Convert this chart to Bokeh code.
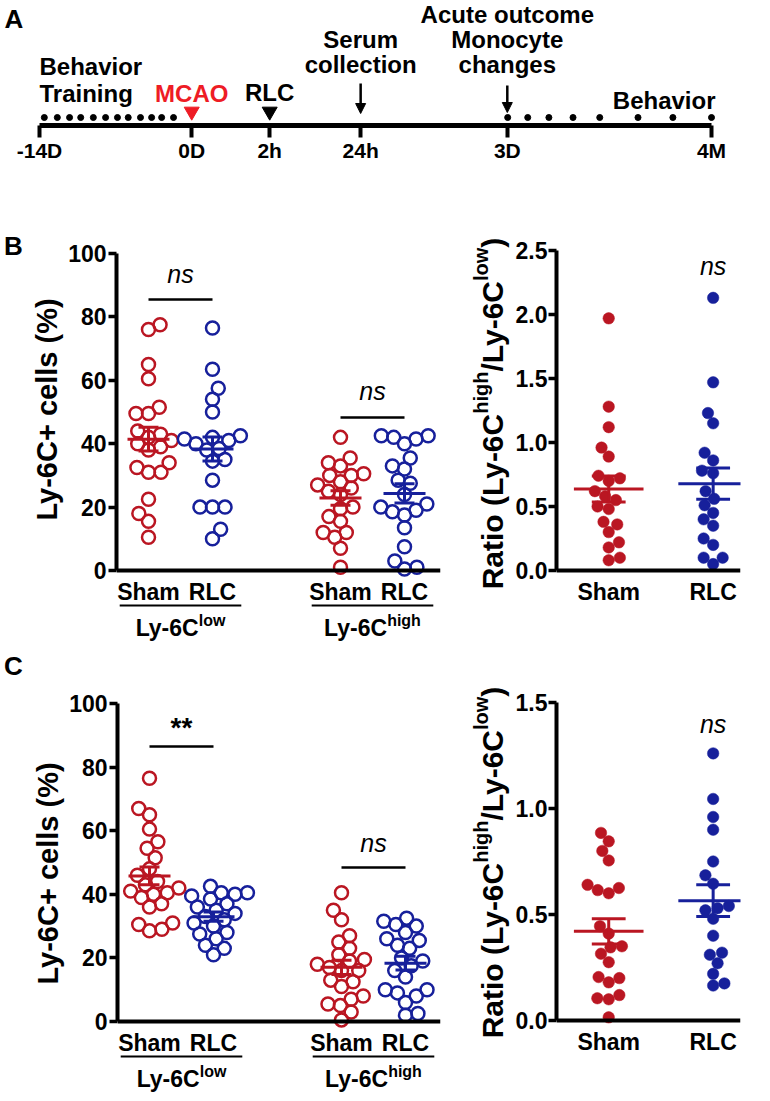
import glob
import numpy as np
from bokeh.plotting import figure
from bokeh.models import Range1d, Label, Arrow, NormalHead, FixedTicker, PrintfTickFormatter
from bokeh.layouts import column, row
from bokeh.embed import file_html
from bokeh.resources import INLINE
from bokeh.core.properties import value

FONT = "Liberation Sans"
RED = "#BA1622"
BLUE = "#17209B"
BRIGHT_RED = "#EE1C25"

# ---------------- data ----------------
timeline_labels = ["-14D", "0D", "2h", "24h", "3D", "4M"]
timeline_pos = [0.0, 4.1, 6.2, 8.65, 12.6, 18.1]
training_days = [0.13, 0.48, 0.81, 1.11, 1.45, 1.78, 2.10, 2.39, 2.72, 3.02, 3.29, 3.61]
behavior_days = [12.61, 13.15, 13.72, 14.37, 15.09, 16.12, 17.06, 18.10]

cat_labels = ["Sham", "RLC"]

b_low_sham = [77.5, 76, 65, 60.5, 51.5, 49.5, 49.5, 44, 43, 42, 41, 40, 39, 38, 34, 32.5, 31, 31, 22.5, 18, 15.5, 10.5]
b_low_rlc = [76.5, 63.5, 57.5, 54, 50, 42.5, 42, 41.5, 41, 40, 38.5, 38, 35, 34.5, 28.5, 20, 20, 20, 13, 10]
b_high_sham = [42, 35.5, 34, 33, 30.5, 30, 30, 28, 27, 26, 25, 24, 20, 19.5, 17, 15.5, 12, 12, 10.5, 7, 1]
b_high_rlc = [42.5, 42.5, 42, 41.5, 40, 35.5, 33, 32, 28.5, 27.5, 24, 21, 20, 19, 18.5, 17.5, 13.5, 7.5, 3, 1, 0.5]

b_ratio_sham = [1.97, 1.28, 1.12, 0.96, 0.89, 0.74, 0.72, 0.70, 0.62, 0.58, 0.55, 0.50, 0.48, 0.38, 0.36, 0.30, 0.22, 0.18, 0.10, 0.08]
b_ratio_rlc = [2.13, 1.47, 1.23, 1.15, 0.92, 0.86, 0.78, 0.76, 0.62, 0.56, 0.51, 0.45, 0.40, 0.35, 0.25, 0.20, 0.10, 0.10, 0.05]

c_low_sham = [76.5, 67, 65, 60.5, 56.5, 54.5, 51.5, 48, 46, 44, 43, 42, 41, 40.5, 40, 39, 37, 36, 31, 30.5, 29, 28.5]
c_low_rlc = [42.5, 40.5, 40.5, 40, 39.5, 38.5, 37, 36, 35, 34, 33, 32, 31, 30, 28, 27.5, 26, 24, 23, 21]
c_high_sham = [40.5, 35, 32, 27, 25, 23, 21, 19.5, 19, 18, 17, 16, 16, 13, 12.5, 11, 8, 7, 5.5, 5, 3, 0.5]
c_high_rlc = [32.5, 31.5, 30.5, 30, 28, 26, 25.5, 24, 23, 20, 19, 17.5, 16, 14, 10, 9, 10, 8, 6, 2.5, 2]

c_ratio_sham = [0.885, 0.845, 0.80, 0.755, 0.64, 0.625, 0.615, 0.60, 0.445, 0.41, 0.35, 0.345, 0.315, 0.275, 0.205, 0.20, 0.18, 0.12, 0.105, 0.10, 0.015]
c_ratio_rlc = [1.26, 1.045, 0.96, 0.90, 0.75, 0.685, 0.645, 0.54, 0.53, 0.52, 0.48, 0.40, 0.32, 0.31, 0.27, 0.22, 0.175, 0.165]

pct_ticks = [0, 20, 40, 60, 80, 100]
b_ratio_ticks = [0.0, 0.5, 1.0, 1.5, 2.0, 2.5]
c_ratio_ticks = [0.0, 0.5, 1.0, 1.5]

# ---------------- helpers ----------------
_FILES = {"bold": "LiberationSans-Bold.ttf", "normal": "LiberationSans-Regular.ttf",
          "italic": "LiberationSans-Italic.ttf"}
_fcache = {}


def text_width(s, size, style="bold"):
    try:
        from PIL import ImageFont
        key = (style, size)
        if key not in _fcache:
            hits = []
            for base in ["/usr/share/fonts", "/usr/local/share/fonts", "/usr/share"]:
                hits = glob.glob(base + "/**/" + _FILES[style], recursive=True)
                if hits:
                    break
            _fcache[key] = ImageFont.truetype(hits[0], size) if hits else None
        f = _fcache[key]
        if f is not None:
            return float(f.getlength(s))
    except Exception:
        pass
    return 0.58 * size * len(s)


def label(p, x, y, text, size, color="black", style="bold", align="center",
          baseline="middle", angle=0.0):
    p.add_layout(Label(x=x, y=y, text=text, text_font=FONT, text_font_size=f"{size}px",
                       text_font_style=style, text_color=color, text_align=align,
                       text_baseline=baseline, angle=angle))


def clean(p):
    p.outline_line_color = None
    for gr in p.grid:
        gr.visible = False


def swarm(vals, ppy, diam):
    vals = np.asarray(vals, float)
    order = np.argsort(vals)
    placed = []
    offs = np.zeros(len(vals))
    sgn = 1.0
    for i in order:
        y = vals[i] * ppy
        forb = []
        for xp, yp in placed:
            dy = abs(y - yp)
            if dy < diam:
                dx = np.sqrt(diam ** 2 - dy ** 2)
                forb.append((xp - dx, xp + dx))
        cands = [0.0] + [a for a, b in forb] + [b for a, b in forb]
        cands.sort(key=lambda c: (round(abs(c), 6), sgn * c))
        for c in cands:
            if all(not (a + 1e-6 < c < b - 1e-6) for a, b in forb):
                offs[i] = c
                break
        placed.append((offs[i], y))
        sgn = -sgn
    return offs


def style_axis(ax, size=23):
    ax.axis_line_width = 4
    ax.axis_line_color = "black"
    ax.major_tick_line_width = 3.5
    ax.major_tick_line_color = "black"
    ax.major_tick_out = 8
    ax.major_tick_in = 0
    ax.minor_tick_line_color = None
    ax.major_label_text_font = FONT
    ax.major_label_text_font_style = "bold"
    ax.major_label_text_font_size = f"{size}px"
    ax.major_label_text_color = "black"
    ax.major_label_standoff = 2


def strip(left, top, w, h):
    s = figure(width=w, height=h, x_range=Range1d(left, left + w), y_range=Range1d(top + h, top),
               x_axis_location=None, y_axis_location=None,
               min_border_left=0, min_border_right=0, min_border_top=0, min_border_bottom=0,
               output_backend="svg", toolbar_location=None)
    clean(s)
    return s


def make_panel(fig_left, fig_top, fig_w, fig_h, frame_left, frame_right, top_px, zero_px,
               ymax, ppx, yticks, fmt=None):
    ppy = (zero_px - top_px) / ymax
    frame_w = frame_right - frame_left
    x0 = 0.5
    p = figure(width=fig_w, height=fig_h,
               x_range=Range1d(x0, x0 + frame_w / ppx),
               y_range=Range1d(-(fig_top + fig_h - zero_px) / ppy, (zero_px - fig_top) / ppy),
               output_backend="svg", toolbar_location=None,
               min_border_left=frame_left - fig_left, min_border_top=0,
               min_border_right=fig_left + fig_w - frame_right, min_border_bottom=0)
    clean(p)
    yax = p.yaxis[0]
    style_axis(yax)
    yax.ticker = FixedTicker(ticks=yticks)
    yax.bounds = (0, ymax)
    if fmt:
        yax.formatter = PrintfTickFormatter(format=fmt)
    xax = p.xaxis[0]
    style_axis(xax)
    xax.ticker = FixedTicker(ticks=[])
    xax.fixed_location = 0
    xax.major_tick_out = 0
    xax.major_label_standoff = 0
    g = dict(x0=x0, frame_left=frame_left, zero=zero_px, ppx=ppx, ppy=ppy, top=top_px)
    return p, g


def px2y(g, page_y):
    return (g["zero"] - page_y) / g["ppy"]


def draw_group(p, g, vals, pos, color, open_marker, size, diam, mean_half, cap_half):
    vals = np.asarray(vals, float)
    offs = swarm(vals, g["ppy"], diam)
    xs = pos + offs / g["ppx"]
    if open_marker:
        p.scatter(xs, vals, size=size, marker="circle", fill_color=None,
                  line_color=color, line_width=2.5)
    else:
        p.scatter(xs, vals, size=size, marker="circle", fill_color=color,
                  line_color=color, line_width=0.5)
    m = vals.mean()
    se = vals.std(ddof=1) / np.sqrt(len(vals))
    mh = mean_half / g["ppx"]
    ch = cap_half / g["ppx"]
    p.segment(x0=[pos - mh, pos, pos - ch, pos - ch], y0=[m, m - se, m + se, m - se],
              x1=[pos + mh, pos, pos + ch, pos + ch], y1=[m, m + se, m + se, m - se],
              line_color=color, line_width=3)


def cat_labels_below(p, g, positions):
    for i, pos in enumerate(positions):
        label(p, pos, px2y(g, g["zero"] + 21), cat_labels[i % 2], 23)


def group_label(p, g, a, b, sup):
    yline = px2y(g, g["zero"] + 35)
    p.segment(x0=[a - 0.45], y0=[yline], x1=[b + 0.45], y1=[yline],
              line_width=2, line_color="black")
    wb = text_width("Ly-6C", 23)
    ws = text_width(sup, 16)
    cx = (a + b) / 2
    xs = cx - (wb + ws) / 2 / g["ppx"]
    label(p, xs, px2y(g, g["zero"] + 57), "Ly-6C", 23, align="left")
    label(p, xs + wb / g["ppx"], px2y(g, g["zero"] + 50), sup, 16, align="left")


def ratio_ylabel(s, center_x, center_px):
    # rotated label (reads bottom to top), composed of normal and superscript pieces
    pieces = [("Ratio (Ly-6C", False), ("high", True), ("/Ly-6C", False), ("low", True), (")", False)]
    main, supsz = 30, 20
    widths = [text_width(t, supsz if sp else main) for t, sp in pieces]
    total = sum(widths)
    start = center_px + total / 2
    cum = 0.0
    for (t, sp), w in zip(pieces, widths):
        bx = center_x - (12 if sp else 0)
        label(s, bx, start - cum, t, supsz if sp else main,
              align="left", baseline="middle", angle=np.pi / 2)
        cum += w


def pct_panel(fig_top, fig_h, frame_left, top_px, zero_px, data, sig):
    p, g = make_panel(28, fig_top, 422, fig_h, frame_left, 440, top_px, zero_px, 100, 64,
                      pct_ticks)
    yax = p.yaxis[0]
    yax.axis_label = "Ly-6C+ cells (%)"
    yax.axis_label_text_font = FONT
    yax.axis_label_text_font_style = "bold"
    yax.axis_label_text_font_size = "29px"
    yax.axis_label_text_color = "black"
    yax.axis_label_standoff = 2
    for (vals, pos, color) in zip(data, [1, 2, 4, 5], [RED, BLUE, RED, BLUE]):
        draw_group(p, g, vals, pos, color, True, 13, 12.5, 21, 10)
    for (a, b, yl, ty, txt, style, sz) in sig:
        p.segment(x0=[a], y0=[yl], x1=[b], y1=[yl], line_color="black", line_width=2.5)
        label(p, (a + b) / 2, ty, txt, sz, style=style)
    cat_labels_below(p, g, [1, 2, 4, 5])
    group_label(p, g, 1, 2, "low")
    group_label(p, g, 4, 5, "high")
    return p


def ratio_panel(fig_top, fig_h, top_px, zero_px, ymax, ticks, data, ns_y):
    p, g = make_panel(512, fig_top, 258, fig_h, 555, 740, top_px, zero_px, ymax, 105,
                      ticks, fmt="%.1f")
    p.yaxis[0].major_label_standoff = 1
    for (vals, pos, color) in zip(data, [1, 2], [RED, BLUE]):
        draw_group(p, g, vals, pos, color, False, 11.5, 11.5, 35, 17)
    label(p, 2, ns_y, "ns", 25, style="italic")
    cat_labels_below(p, g, [1, 2])
    return p


# ---------------- panel A: timeline ----------------
W = 770
A_H = 173
LINE_PAGE = 125
k = (711 - 39) / (timeline_pos[-1] - timeline_pos[0])
pA = figure(width=W, height=A_H,
            x_range=Range1d(timeline_pos[0] - 39 / k, timeline_pos[-1] + (W - 711) / k),
            y_range=Range1d(0, LINE_PAGE), y_axis_location=None,
            min_border_left=0, min_border_right=0, min_border_top=0,
            min_border_bottom=A_H - LINE_PAGE,
            output_backend="svg", toolbar_location=None)
clean(pA)
ax = pA.xaxis[0]
style_axis(ax, 21)
ax.axis_line_width = 5
ax.major_tick_line_width = 4
ax.major_tick_out = 12
ax.major_label_standoff = 1
ax.ticker = FixedTicker(ticks=timeline_pos)
ax.major_label_overrides = {t: s for t, s in zip(timeline_pos, timeline_labels)}
ax.bounds = (timeline_pos[0], timeline_pos[-1])

DOT_H, TRI_H = 8, 14
pA.scatter(training_days, [DOT_H] * len(training_days), size=6, color="black")
pA.scatter(behavior_days, [DOT_H] * len(behavior_days), size=6, color="black")
pA.scatter([timeline_pos[1]], [TRI_H], marker="inverted_triangle", size=15, color=BRIGHT_RED)
pA.scatter([timeline_pos[2]], [TRI_H], marker="inverted_triangle", size=15, color="black")
for pos, y0, y1 in [(timeline_pos[3], 42, 12), (timeline_pos[4], 40, 13)]:
    pA.add_layout(Arrow(end=NormalHead(size=10, fill_color="black", line_color="black"),
                        x_start=pos, y_start=y0, x_end=pos, y_end=y1,
                        line_width=2.5, line_color="black"))

TS = 24
label(pA, timeline_pos[4], LINE_PAGE - 14, "Acute outcome", TS)
label(pA, timeline_pos[4], LINE_PAGE - 39, "Monocyte", TS)
label(pA, timeline_pos[4], LINE_PAGE - 64, "changes", TS)
label(pA, timeline_pos[3], LINE_PAGE - 39, "Serum", TS)
label(pA, timeline_pos[3], LINE_PAGE - 64, "collection", TS)
label(pA, timeline_pos[0], LINE_PAGE - 66, "Behavior", TS, align="left")
label(pA, timeline_pos[0], LINE_PAGE - 93, "Training", TS, align="left")
label(pA, timeline_pos[1], LINE_PAGE - 93, "MCAO", TS, color=BRIGHT_RED)
label(pA, timeline_pos[2], LINE_PAGE - 92, "RLC", TS)
label(pA, timeline_pos[-1] + 4 / k, LINE_PAGE - 100, "Behavior", TS, align="right")
label(pA, timeline_pos[0] - 35 / k, LINE_PAGE - 18, "A", 26, align="left")

# ---------------- panels B and C ----------------
B_TOP, B_H = 173, 472
C_TOP, C_H = 645, 456

sB = strip(0, B_TOP, 28, B_H)
label(sB, 13, 245, "B", 26)
pB1 = pct_panel(B_TOP, B_H, 116, 253, 570,
                [b_low_sham, b_low_rlc, b_high_sham, b_high_rlc],
                [(1, 2, 85.5, 93.5, "ns", "italic", 25), (4, 5, 48.3, 56.5, "ns", "italic", 25)])
rB = strip(450, B_TOP, 62, B_H)
ratio_ylabel(rB, 492, 413)
pB2 = ratio_panel(B_TOP, B_H, 250, 570, 2.5, b_ratio_ticks, [b_ratio_sham, b_ratio_rlc], 2.38)

sC = strip(0, C_TOP, 28, C_H)
label(sC, 13, 665, "C", 26)
pC1 = pct_panel(C_TOP, C_H, 117, 703, 1021,
                [c_low_sham, c_low_rlc, c_high_sham, c_high_rlc],
                [(1, 2, 86.5, 92.5, "**", "bold", 28), (4, 5, 48.4, 56.0, "ns", "italic", 25)])
rC = strip(450, C_TOP, 62, C_H)
ratio_ylabel(rC, 492, 862)
pC2 = ratio_panel(C_TOP, C_H, 702, 1020, 1.5, c_ratio_ticks, [c_ratio_sham, c_ratio_rlc], 1.40)

layout = column(pA, row(sB, pB1, rB, pB2), row(sC, pC1, rC, pC2))
open("out.html", "w").write(file_html(layout, INLINE, "chart"))
